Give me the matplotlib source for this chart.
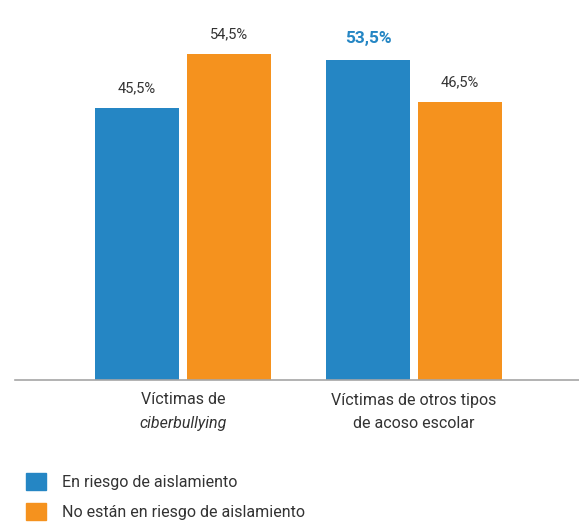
import matplotlib.pyplot as plt
from matplotlib.patches import Patch

plt.rcParams["font.family"] = ["Roboto", "DejaVu Sans"]

# datos
categories = ["Víctimas de\nciberbullying", "Víctimas de otros tipos\nde acoso escolar"]
series_names = ["En riesgo de aislamiento", "No están en riesgo de aislamiento"]
en_riesgo = [45.5, 53.5]
no_riesgo = [54.5, 46.5]

BLUE = "#2586c4"
ORANGE = "#f5921e"
TEXT = "#333333"

fig = plt.figure(figsize=(5.79, 5.26), dpi=100)
ax = fig.add_axes([15 / 579, (526 - 380) / 526, 564 / 579, 380 / 526])

bar_width = 0.364
offset = 0.199
x = range(len(categories))
bars_a = ax.bar([i - offset for i in x], en_riesgo, bar_width, color=BLUE)
bars_b = ax.bar([i + offset for i in x], no_riesgo, bar_width, color=ORANGE)

ax.set_xlim(-0.727, 1.714)
ax.set_ylim(0, 63.5)


def fmt(v):
    return f"{v:.1f}".replace(".", ",") + "%"


# etiquetas de valor; la mayor del grupo azul destacada
for bars, vals in [(bars_a, en_riesgo), (bars_b, no_riesgo)]:
    for bar, v in zip(bars, vals):
        highlight = bars is bars_a and v == max(en_riesgo)
        ax.annotate(
            fmt(v),
            (bar.get_x() + bar.get_width() / 2, v),
            xytext=(0, 10 if highlight else 9),
            textcoords="offset points",
            ha="center",
            va="bottom",
            fontsize=12.5 if highlight else 10.5,
            fontweight="bold" if highlight else "normal",
            color=BLUE if highlight else TEXT,
        )

# etiquetas de categoría (segunda línea en cursiva para la primera)
for i, cat in enumerate(categories):
    first, second = cat.split("\n")
    ax.annotate(first, (i, 0), xycoords=("data", "axes fraction"),
                xytext=(0, -9), textcoords="offset points",
                ha="center", va="top", fontsize=11.5, color=TEXT)
    ax.annotate(second, (i, 0), xycoords=("data", "axes fraction"),
                xytext=(0, -26), textcoords="offset points",
                ha="center", va="top", fontsize=11.5, color=TEXT,
                style="italic" if i == 0 else "normal")

ax.set_xticks([])
ax.set_yticks([])
for s in ["top", "right", "left"]:
    ax.spines[s].set_visible(False)
ax.spines["bottom"].set_color("#a6a6a6")
ax.spines["bottom"].set_linewidth(1.2)

handles = [Patch(color=BLUE), Patch(color=ORANGE)]
fig.legend(
    handles,
    series_names,
    loc="upper left",
    bbox_to_anchor=(12 / 579, 1 - 459 / 526),
    frameon=False,
    fontsize=11.5,
    handlelength=1.25,
    handleheight=1.25,
    handletextpad=1.0,
    labelspacing=0.8,
    labelcolor=TEXT,
)

fig.savefig("out.png", dpi=100)
